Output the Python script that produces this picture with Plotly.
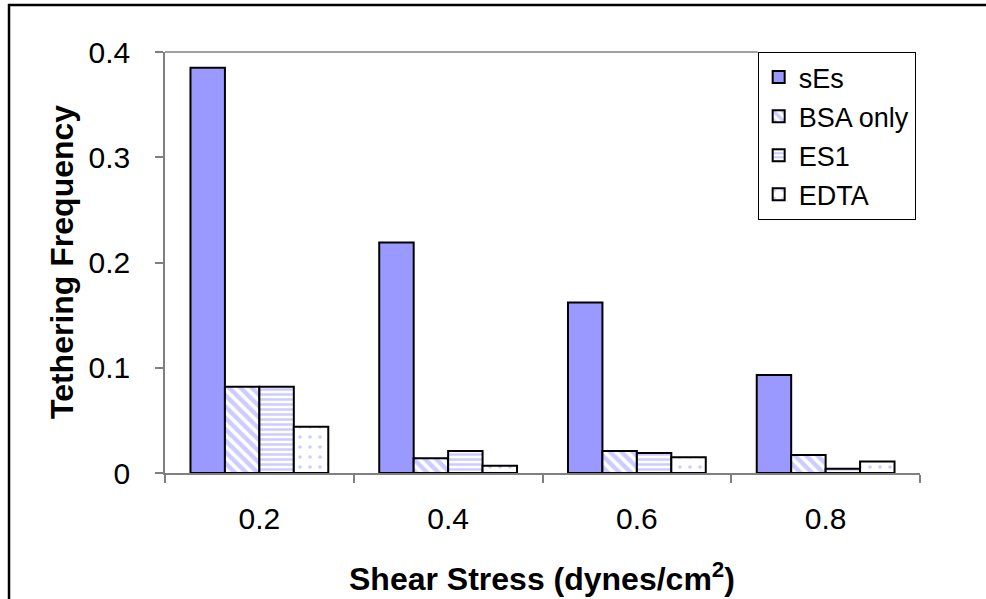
import plotly.graph_objects as go

# Shear stress levels (dynes/cm^2) and tethering frequency per condition
shear_stress = ["0.2", "0.4", "0.6", "0.8"]
ses = [0.385, 0.219, 0.162, 0.093]
bsa_only = [0.082, 0.014, 0.021, 0.017]
es1 = [0.082, 0.021, 0.019, 0.004]
edta = [0.044, 0.007, 0.015, 0.011]

y_ticks = [0, 0.1, 0.2, 0.3, 0.4]
y_tick_text = ["0", "0.1", "0.2", "0.3", "0.4"]

series = [
    ("sEs", ses, dict(shape="", fillmode="replace")),
    ("BSA only", bsa_only, dict(shape="\\", fgcolor="#9999FF", bgcolor="white", size=8, solidity=0.55)),
    ("ES1", es1, dict(shape="-", fgcolor="#9999FF", bgcolor="white", size=5, solidity=0.5)),
    ("EDTA", edta, dict(shape=".", fgcolor="#9999FF", bgcolor="white", size=10, solidity=0.1)),
]

fig = go.Figure()
for i, (name, vals, pattern) in enumerate(series):
    fig.add_trace(go.Bar(
        x=shear_stress,
        y=vals,
        name=name,
        legendgroup=name,
        marker=dict(
            color="#9999FF" if i == 0 else "white",
            line=dict(color="black", width=2),
            pattern=pattern,
        ),
    ))

font = "Arial, 'Liberation Sans', sans-serif"

fig.update_layout(
    width=986,
    height=599,
    margin=dict(l=165, r=66, t=52, b=126),
    paper_bgcolor="white",
    plot_bgcolor="white",
    barmode="group",
    bargap=0.27,
    bargroupgap=0,
    font=dict(family=font, color="black"),
    showlegend=True,
    legend=dict(
        x=0.785, y=1.0, xanchor="left", yanchor="top",
        bordercolor="black", borderwidth=1,
        font=dict(family=font, size=27, color="black"),
        traceorder="grouped",
        tracegroupgap=1,
        bgcolor="white",
    ),
    xaxis=dict(
        type="category",
        showline=True, linecolor="#808080", linewidth=1.5,
        ticks="outside", tickson="boundaries", ticklen=8, tickcolor="#808080", tickwidth=1.5,
        ticklabelstandoff=18,
        tickfont=dict(family=font, size=30, color="black"),
        showgrid=False, zeroline=False,
    ),
    yaxis=dict(
        range=[0, 0.4],
        tickvals=y_ticks, ticktext=y_tick_text,
        showline=True, linecolor="#808080", linewidth=1.5,
        ticks="outside", ticklen=8, tickcolor="#808080", tickwidth=1.5,
        ticklabelstandoff=19,
        tickfont=dict(family=font, size=30, color="black"),
        showgrid=False, zeroline=False,
    ),
    shapes=[
        # top edge of the plot area
        dict(type="line", xref="paper", yref="paper", x0=0, x1=0.785, y0=1, y1=1,
             line=dict(color="#808080", width=1.5)),
        # outer chart frame
        dict(type="rect", xref="paper", yref="paper", x0=-0.2066, x1=1.25, y0=-0.45, y1=1.1116,
             line=dict(color="black", width=2.5), layer="above"),
    ],
    annotations=[
        dict(text="<b>Tethering Frequency</b>", xref="paper", yref="paper",
             x=(62 - 165) / 755, y=(473 - 262) / 421, textangle=-90, showarrow=False,
             xanchor="center", yanchor="middle", font=dict(family=font, size=32, color="black")),
        dict(text="<b>Shear Stress (dynes/cm<sup>2</sup>)</b>", xref="paper", yref="paper",
             x=(542 - 165) / 755, y=(473 - 577) / 421, showarrow=False,
             xanchor="center", yanchor="middle", font=dict(family=font, size=32, color="black")),
    ],
)

fig.write_html("out.html")
